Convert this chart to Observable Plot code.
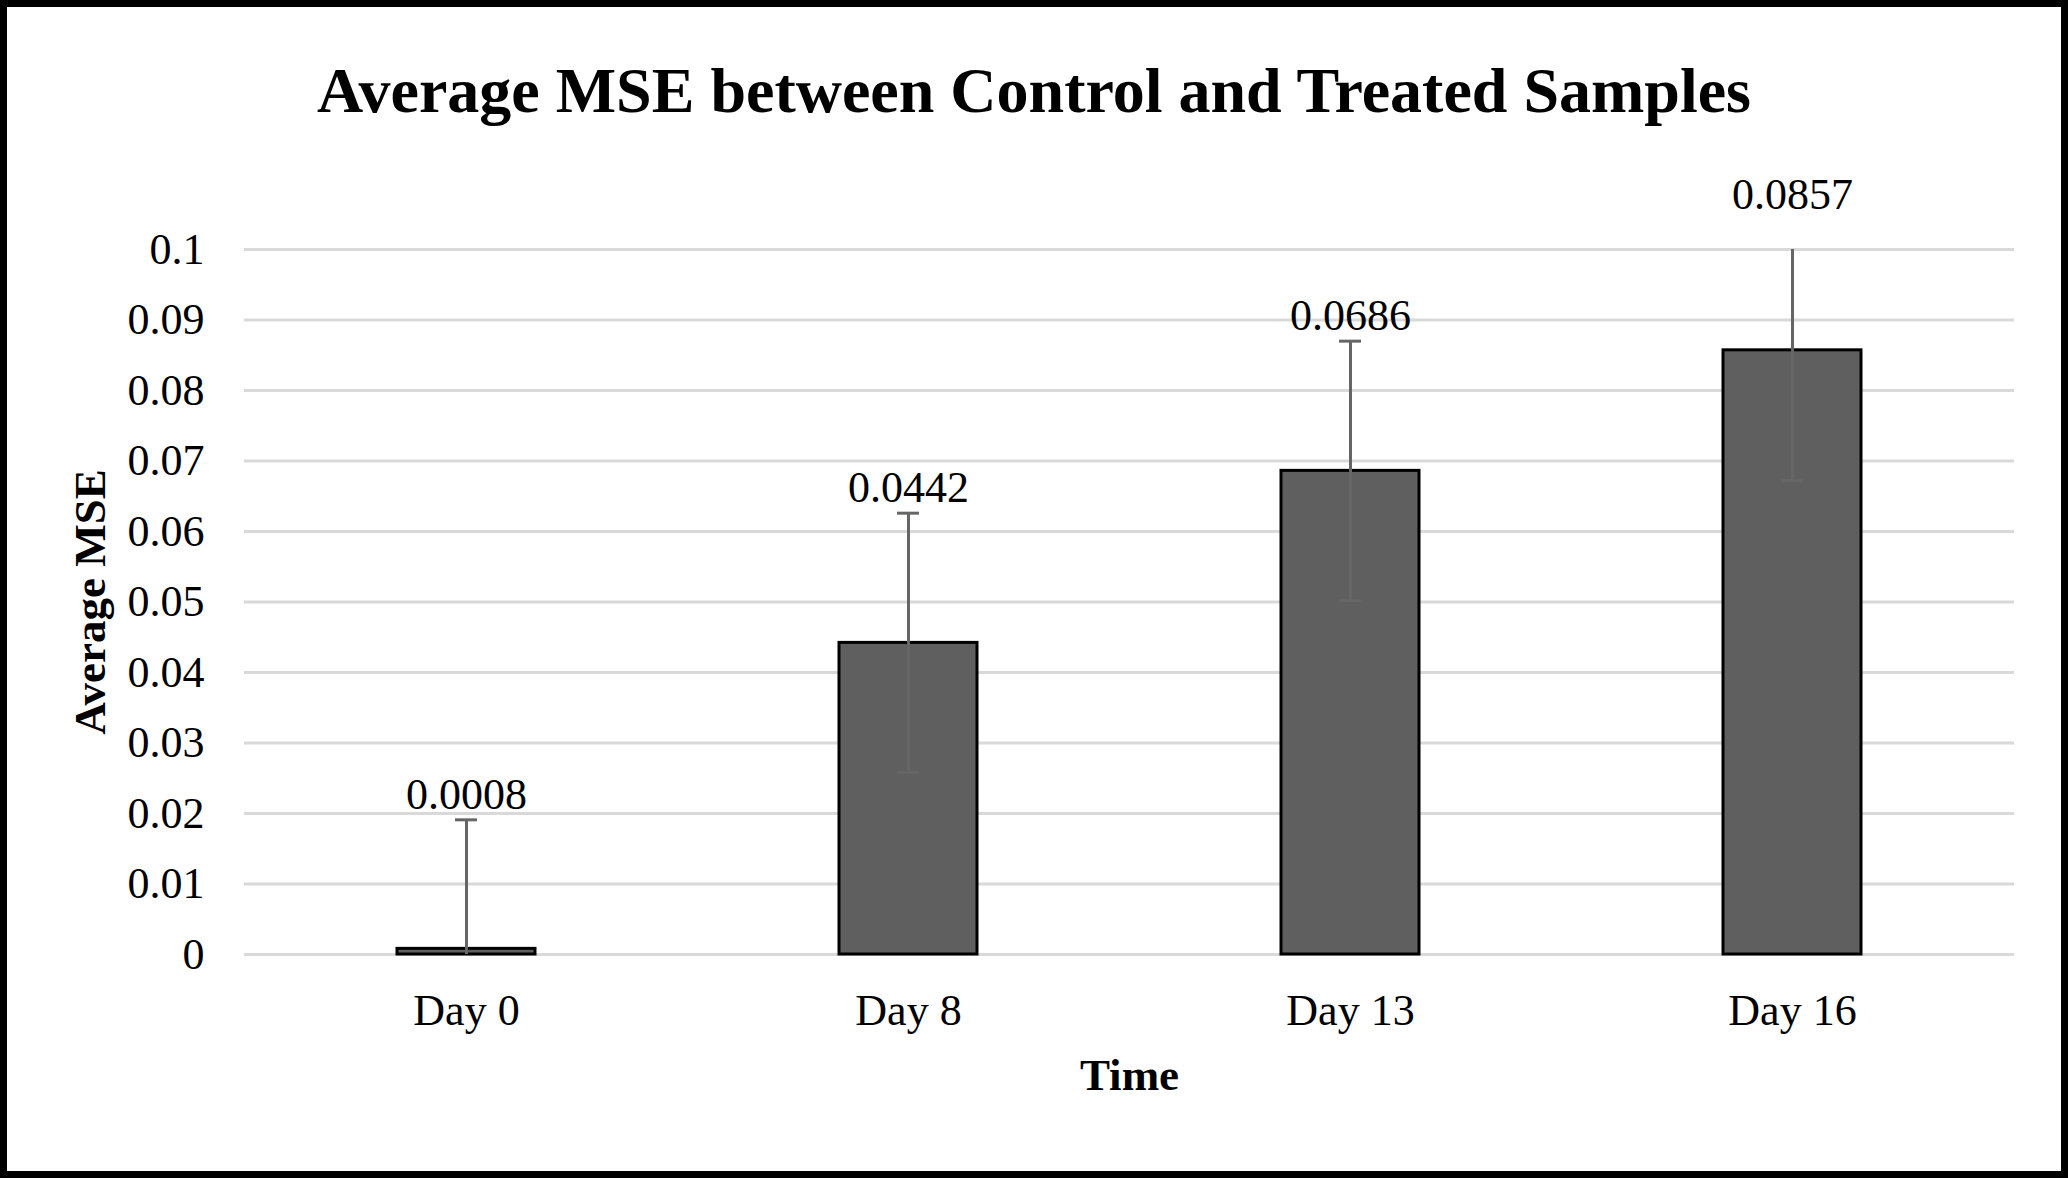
<!DOCTYPE html>
<html>
<head>
<meta charset="utf-8">
<script src="https://cdn.jsdelivr.net/npm/d3@7"></script>
<script src="https://cdn.jsdelivr.net/npm/@observablehq/plot@0.6"></script>
<style>
  html, body { margin: 0; padding: 0; background: #fff; }
  #wrap { width: 2068px; height: 1178px; box-sizing: border-box; border: 7px solid #000; background: #fff; position: relative; overflow: hidden; }
  #title { height: 150px; box-sizing: border-box; padding-top: 52px; font: 700 64px "Liberation Serif", "Times New Roman", serif; line-height: 1; text-align: center; color: #000; }
  #chart svg { display: block; }
</style>
</head>
<body>
<div id="wrap">
  <div id="title">Average MSE between Control and Treated Samples</div>
  <div id="chart"></div>
</div>
<script>
const days = ["Day 0", "Day 8", "Day 13", "Day 16"];
const mse = [0.0008, 0.0442, 0.0686, 0.0857];
const err = [0.0183, 0.0184, 0.0184, 0.0185];
const yTicks = [0, 0.01, 0.02, 0.03, 0.04, 0.05, 0.06, 0.07, 0.08, 0.09, 0.1];
const yTickLabels = ["0", "0.01", "0.02", "0.03", "0.04", "0.05", "0.06", "0.07", "0.08", "0.09", "0.1"];

const data = days.map((d, i) => ({day: d, mse: mse[i], err: err[i]}));
const serif = '"Liberation Serif", "Times New Roman", serif';

const chart = Plot.plot({
  width: 2054,
  height: 1014,
  marginTop: 92,
  marginBottom: 217,
  marginLeft: 237,
  marginRight: 47,
  style: {fontFamily: serif, background: "#fff", color: "#000"},
  x: {type: "band", domain: days, paddingInner: 0.688, paddingOuter: 0.344},
  y: {domain: [0, 0.1]},
  marks: [
    Plot.gridY(yTicks, {stroke: "#d9d9d9", strokeWidth: 3, strokeOpacity: 1}),
    Plot.axisY({ticks: yTicks, tickFormat: (d) => yTickLabels[yTicks.indexOf(d)], tickSize: 0, tickPadding: 40, fontSize: 44, label: null, fill: "#000"}),
    Plot.axisX({tickSize: 0, tickPadding: 39, fontSize: 44, label: null, fill: "#000"}),
    Plot.barY(data, {x: "day", y: "mse", fill: "#5f5f5f", stroke: "#000", strokeWidth: 3}),
    Plot.ruleX(data, {x: "day", y1: (d) => d.mse - d.err, y2: (d) => d.mse + d.err, stroke: "#666", strokeWidth: 3, clip: true}),
    Plot.tickY(data, {x: "day", y: (d) => d.mse + d.err, stroke: "#666", strokeWidth: 3, insetLeft: 58, insetRight: 58, clip: true}),
    Plot.tickY(data, {x: "day", y: (d) => d.mse - d.err, stroke: "#666", strokeWidth: 3, insetLeft: 58, insetRight: 58, clip: true}),
    Plot.text(data, {x: "day", y: (d) => d.mse + d.err, text: (d) => d.mse.toFixed(4), dy: -25, lineAnchor: "middle", fontSize: 44, fill: "#000"}),
    Plot.text(["Average MSE"], {frameAnchor: "left", dx: -154, rotate: -90, lineAnchor: "middle", textAnchor: "middle", fontSize: 45, fontWeight: "bold", fill: "#000"}),
    Plot.text(["Time"], {frameAnchor: "bottom", dy: 121, lineAnchor: "middle", textAnchor: "middle", fontSize: 45, fontWeight: "bold", fill: "#000"})
  ]
});
document.getElementById("chart").appendChild(chart);
</script>
</body>
</html>
